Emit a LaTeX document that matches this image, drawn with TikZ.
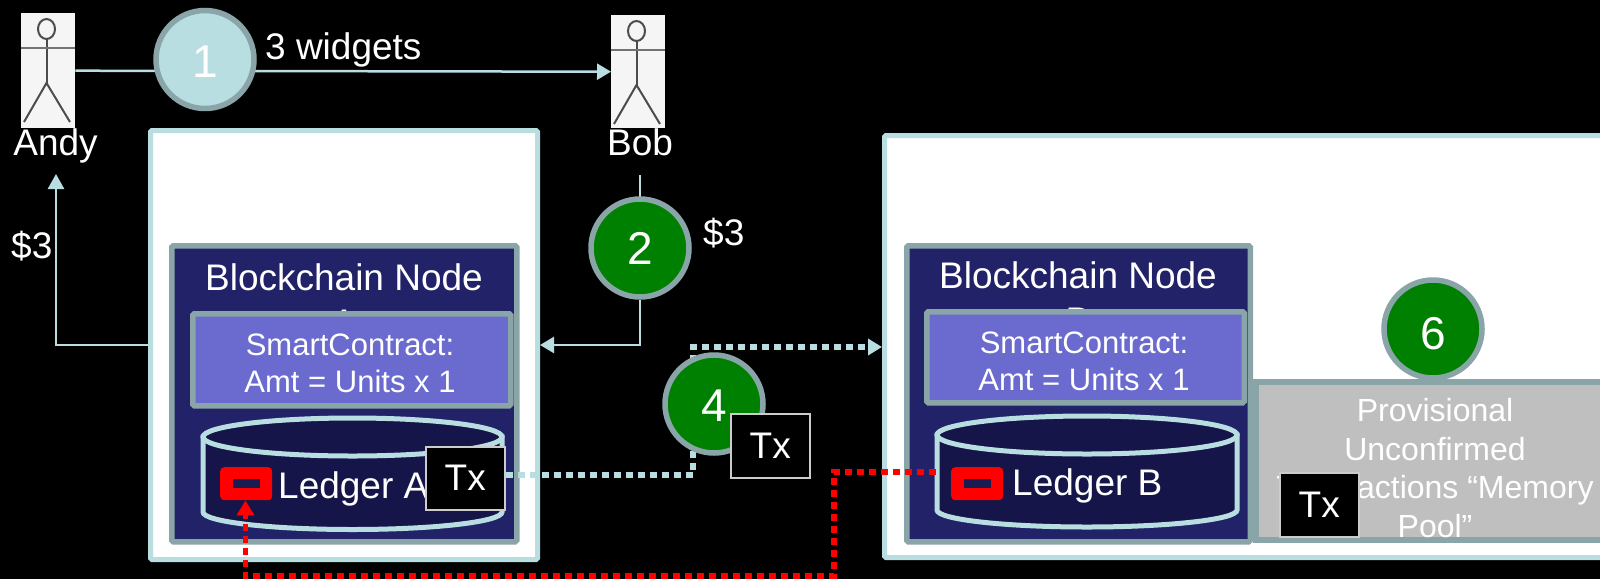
\documentclass[tikz,border=0pt]{standalone}
\usepackage{fontspec}
\setmainfont{Liberation Sans}
\usetikzlibrary{arrows.meta,calc}
\definecolor{teal}{HTML}{B9DEE2}
\definecolor{slate}{HTML}{8AA5A8}
\definecolor{navy}{HTML}{222268}
\definecolor{deep}{HTML}{15154A}
\definecolor{violet}{HTML}{6B6BCF}
\definecolor{forest}{HTML}{008000}
\newcommand{\fs}[1]{\fontsize{#1}{1.2\dimexpr#1pt\relax}\selectfont}
\newcommand{\digit}[2]{\rule{0pt}{#2pt}#1}
\tikzset{
  x=1pt,y=-1pt,
  box/.style={anchor=north west,rectangle,inner sep=0pt,rounded corners=1.5pt},
  outerbox/.style={box,draw=teal,line width=5pt,fill=white},
  nodebox/.style={box,draw=slate,line width=5.5pt,fill=navy},
  contract/.style={box,draw=slate,line width=5.5pt,fill=violet},
  pool/.style={box,draw=slate,line width=5.5pt,fill=black!25,rounded corners=0pt},
  txbox/.style={box,draw=black!20,line width=1.5pt,fill=black,text=white,font=\fs{37},rounded corners=0pt},
  person/.style={box,fill=black!4,rounded corners=0pt},
  badge/.style={circle,inner sep=0pt,minimum size=98pt,line width=5.5pt,draw=slate,text=white,font=\fs{46}},
  lab/.style={text=white,inner sep=0pt,font=\fs{37}},
  conn/.style={draw=teal,line width=2.5pt},
  tealdot/.style={draw=teal,line width=6pt,dash pattern=on 7pt off 5pt},
  reddot/.style={draw=red,line width=5.5pt,dash pattern=on 7pt off 5pt},
  stick/.style={draw=black!70,line width=2pt},
  hold/.style={rectangle,inner sep=0pt,minimum width=52pt,minimum height=33pt,fill=red,rounded corners=4pt,anchor=north west},
  holdin/.style={rectangle,inner sep=0pt,minimum width=27pt,minimum height=9pt,fill=navy!80!black},
  barrel/.style={draw=teal,line width=5pt,fill=deep},
}
\begin{document}
\begin{tikzpicture}
\useasboundingbox (0,0) rectangle (1600,579);
\fill[black] (0,0) rectangle (1600,579);

% actors
\node[person,minimum width=54pt,minimum height=115pt] (andyBox) at (21,13) {};
\node[person,minimum width=54pt,minimum height=113pt] (bobBox) at (611,15) {};
\foreach \bx/\by in {21/13,611/15}{
  \begin{scope}[shift={(\bx,\by)}]
    \draw[stick] (25.5,16) ellipse (8.5 and 10);
    \draw[stick] (25.5,26) -- (25.5,70);
    \draw[draw=black!55,line width=2.5pt] (0,35) -- (54,35);
    \draw[stick] (3,109) -- (25.5,70) -- (49,109);
  \end{scope}
}
\node[lab,anchor=base] (andyLab) at (55.5,155) {Andy};
\node[lab,anchor=base] (bobLab) at (640,155) {Bob};

% outer boxes
\node[outerbox,minimum width=387pt,minimum height=429pt] (outerA) at (148,128) {};
\node[outerbox,minimum width=800pt,minimum height=422pt] (outerB) at (882,133) {};

% connectors behind badges
\draw[conn,-{Triangle[length=14pt,width=16pt]}] (andyBox.east) -- (bobBox.west);
\coordinate (andyUp) at (56,174);
\draw[conn,-{Triangle[length=15pt,width=16pt]}] (outerA.west) -| (andyUp);
\coordinate (bobDown) at (640,175);
\draw[conn] (bobDown) -- (640,200);
\node[badge,fill=teal] (one) at (205,59.5) {\digit{1}{36}};
\node[badge,fill=forest] (two) at (640,248) {\digit{2}{33}};
\draw[conn,-{Triangle[length=14pt,width=16pt]}] (two.south) |- (outerA.east);

\node[lab,anchor=base west] (widgets) at (265,59) {3 widgets};
\node[lab,anchor=base west] (dollarL) at (11,258) {\$3};
\node[lab,anchor=base west] (dollarR) at (703,245) {\$3};

% node A
\node[nodebox,minimum width=345pt,minimum height=296pt] (nodeA) at (169,243) {};
\node[lab,align=center,anchor=base] (nodeAText) at (344,335) {Blockchain Node\\A};
\node[contract,minimum width=318pt,minimum height=92pt] (smartA) at (190,311) {};
\node[lab,align=center,font=\fs{31}] (smartAText) at (350,363) {SmartContract:\\Amt = Units x 1};
\draw[barrel] (203,437) -- (203,512) arc[start angle=180,end angle=0,x radius=149.5,y radius=17.5] -- (502,437) -- cycle;
\draw[barrel] (352.5,437) ellipse (149.5 and 19);
\node[hold] (iconA) at (220,467) {};
\node[holdin] at (iconA) {};
\node[lab,anchor=base west] (ledgerA) at (278,498) {Ledger A};
\node[txbox,minimum width=79pt,minimum height=63pt] (txA) at (425,446) {Tx};

% node B
\node[pool,minimum width=352pt,minimum height=158pt] (poolB) at (1253,379) {};
\node[lab,align=center,font=\fs{32}] (poolText) at (1435,468) {Provisional\\Unconfirmed\\Transactions “Memory\\Pool”};
\node[nodebox,minimum width=343.5pt,minimum height=296pt] (nodeB) at (904,243) {};
\node[lab,align=center,anchor=base] (nodeBText) at (1078,333) {Blockchain Node\\B};
\node[contract,minimum width=317.5pt,minimum height=91pt] (smartB) at (924,309) {};
\node[lab,align=center,font=\fs{31}] (smartBText) at (1084,361) {SmartContract:\\Amt = Units x 1};
\draw[barrel] (937,435) -- (937,510) arc[start angle=180,end angle=0,x radius=150,y radius=17] -- (1237,435) -- cycle;
\draw[barrel] (1087,435) ellipse (150 and 19);
\coordinate (redEnd) at (936,472);
\node[hold] (iconB) at (951,467) {};
\node[holdin] at (iconB) {};
\node[lab,anchor=base west] (ledgerB) at (1012,495) {Ledger B};
\node[txbox,minimum width=79pt,minimum height=64pt] (txPool) at (1279,472) {Tx};

% dotted connectors
\coordinate (tealTop) at (693,347);
\draw[tealdot,-{Triangle[length=14pt,width=16pt]}] ($(txA.east)+(0,-3.5)$) -| (tealTop) -- (tealTop -| outerB.west);
\coordinate (redLow) at (245.5,576);
\coordinate (redCorner) at (834,576);
\draw[reddot,-{Triangle[length=15pt,width=17pt]}] (redEnd) -| (redCorner) -- (redLow) -- (iconA.south -| redLow);

\node[badge,fill=forest] (four) at (714,404) {\digit{4}{35}};
\node[txbox,minimum width=79pt,minimum height=64pt] (txMid) at (730,413) {Tx};
\node[badge,fill=forest] (six) at (1433,329) {\digit{6}{41}};
\end{tikzpicture}
\end{document}
